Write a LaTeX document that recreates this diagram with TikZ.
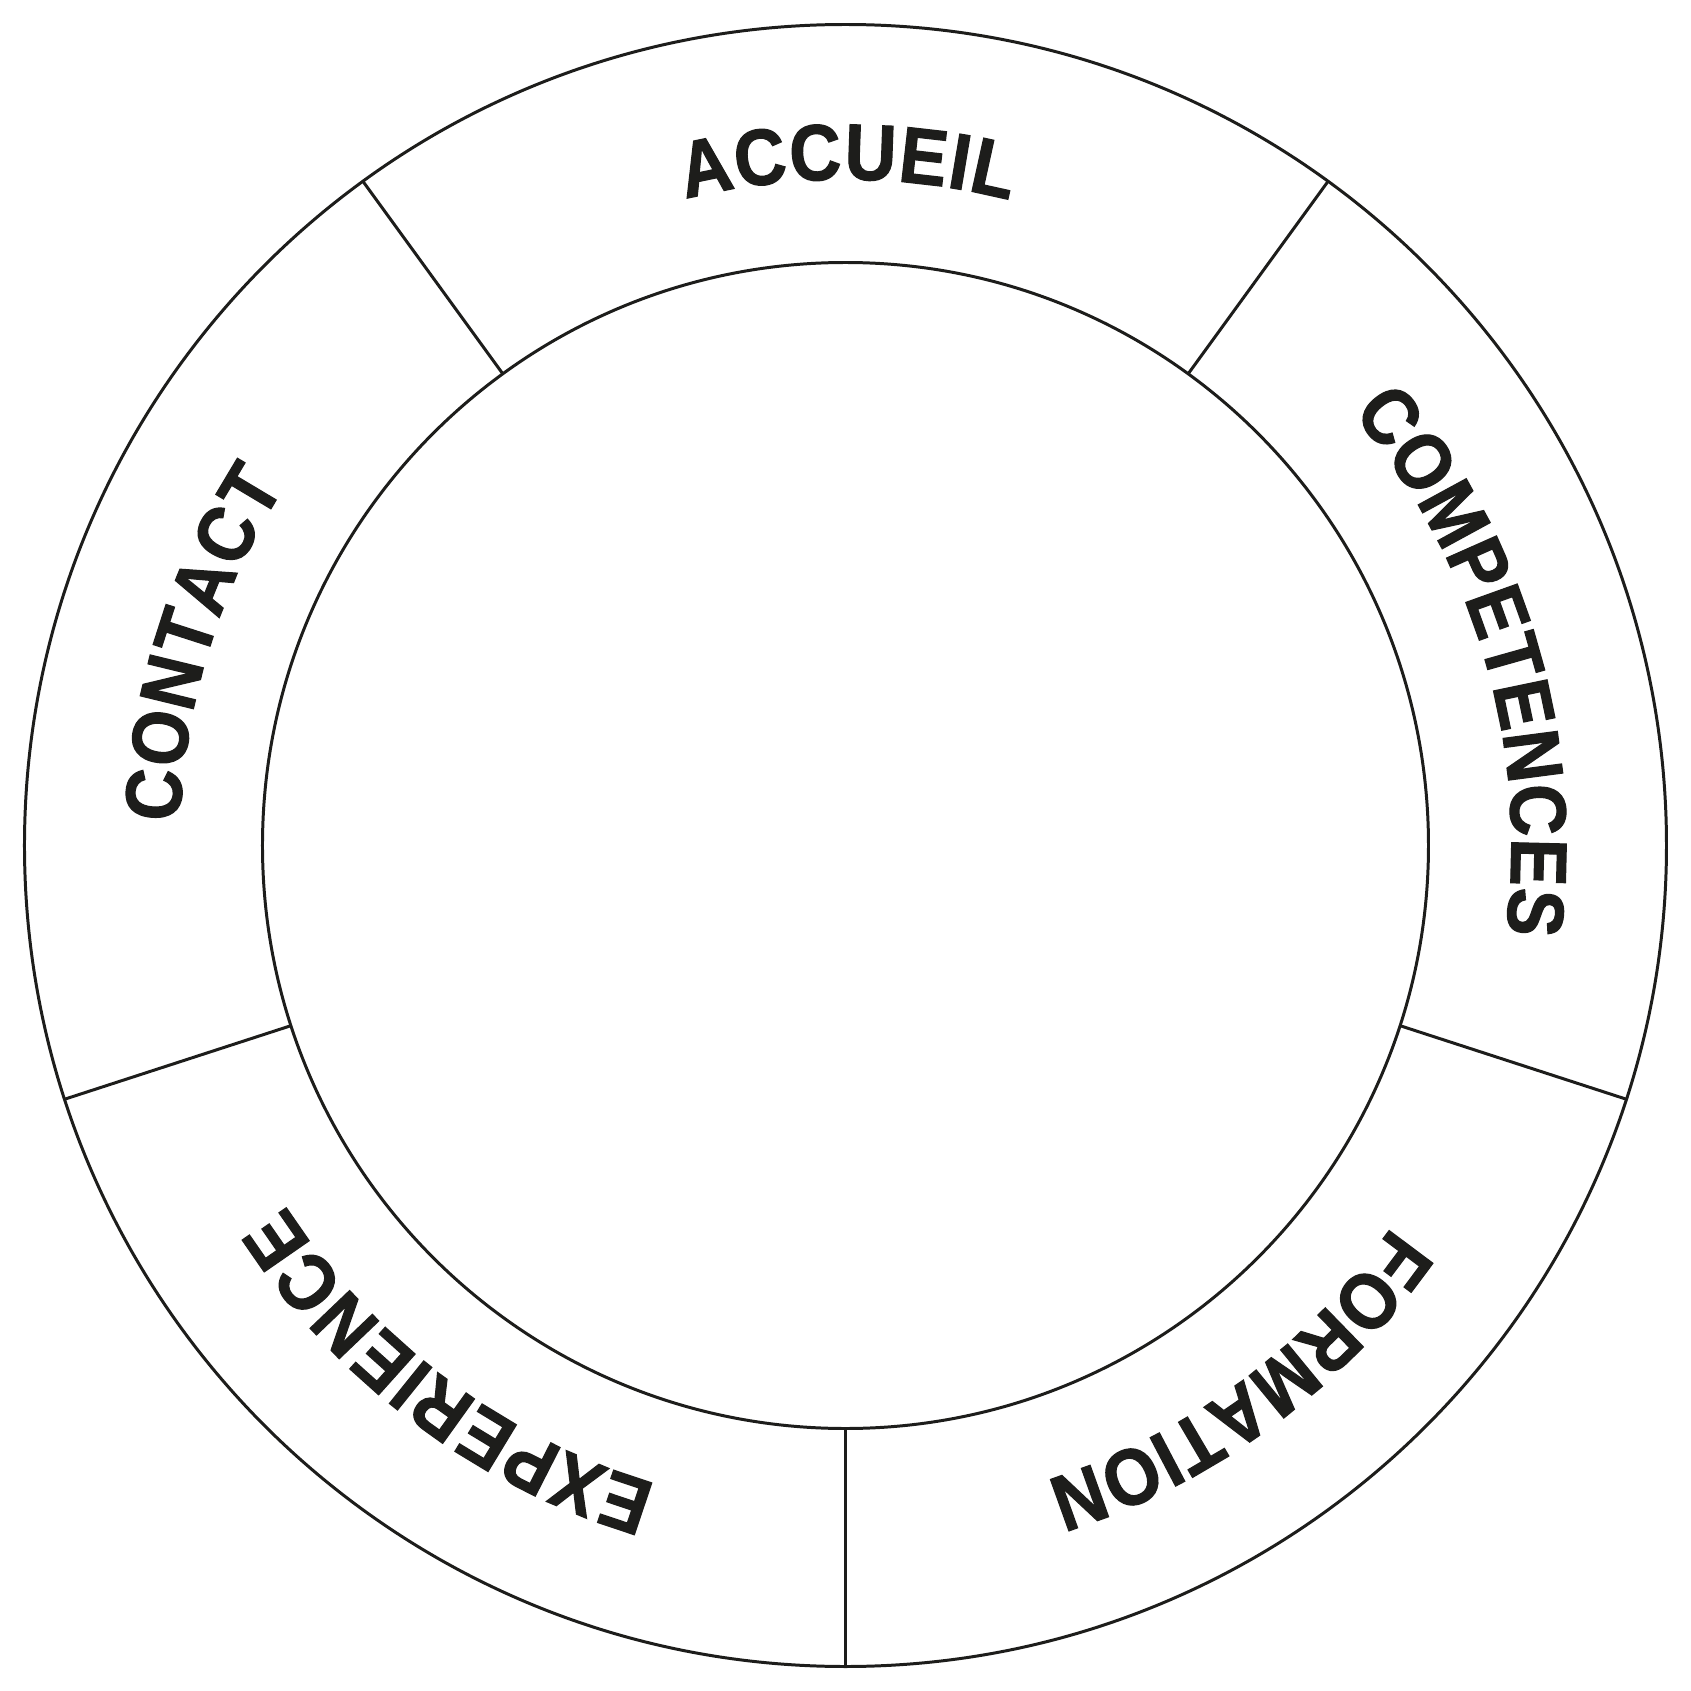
\documentclass[tikz,border=0pt]{standalone}
\usepackage{fontspec}
\usetikzlibrary{decorations.text}
\newfontfamily\lab{Liberation Sans}[FakeStretch=0.9,FakeBold=1.5]
\definecolor{ink}{HTML}{1D1D1B}
\tikzset{
  ring/.style={draw=ink, line width=0.85pt},
  divider/.style={draw=ink, line width=0.85pt},
  arclabel/.style={decorate, decoration={text along path, text align={fit to path},
      text color=ink, text={|\lab\bfseries\fontsize{22.6pt}{27pt}\selectfont|#1}}}
}
\begin{document}
\begin{tikzpicture}
\useasboundingbox (-8.455,-8.455) rectangle (8.455,8.455);
\coordinate (c) at (0,0);
\def\Ro{8.21}
\def\Ri{5.83}
\def\Rt{6.66}
\draw[ring] (c) circle[radius=\Ro];
\draw[ring] (c) circle[radius=\Ri];
\foreach \a/\n in {54/d1,126/d2,198/d3,270/d4,342/d5}{
  \coordinate (\n i) at (\a:\Ri);
  \coordinate (\n o) at (\a:\Ro);
  \draw[divider] (\n i) -- (\n o);
}
\path[arclabel=ACCUEIL] (103.9:\Rt) arc[start angle=103.9, end angle=75.7, radius=\Rt];
\path[arclabel=COMPETENCES] (40.5:\Rt) arc[start angle=40.5, end angle=-7.6, radius=\Rt];
\path[arclabel=FORMATION] (325.1:\Rt) arc[start angle=325.1, end angle=287.5, radius=\Rt];
\path[arclabel=EXPERIENCE] (253.5:\Rt) arc[start angle=253.5, end angle=212.7, radius=\Rt];
\path[arclabel=CONTACT] (178.0:\Rt) arc[start angle=178.0, end angle=147.3, radius=\Rt];
\end{tikzpicture}
\end{document}
